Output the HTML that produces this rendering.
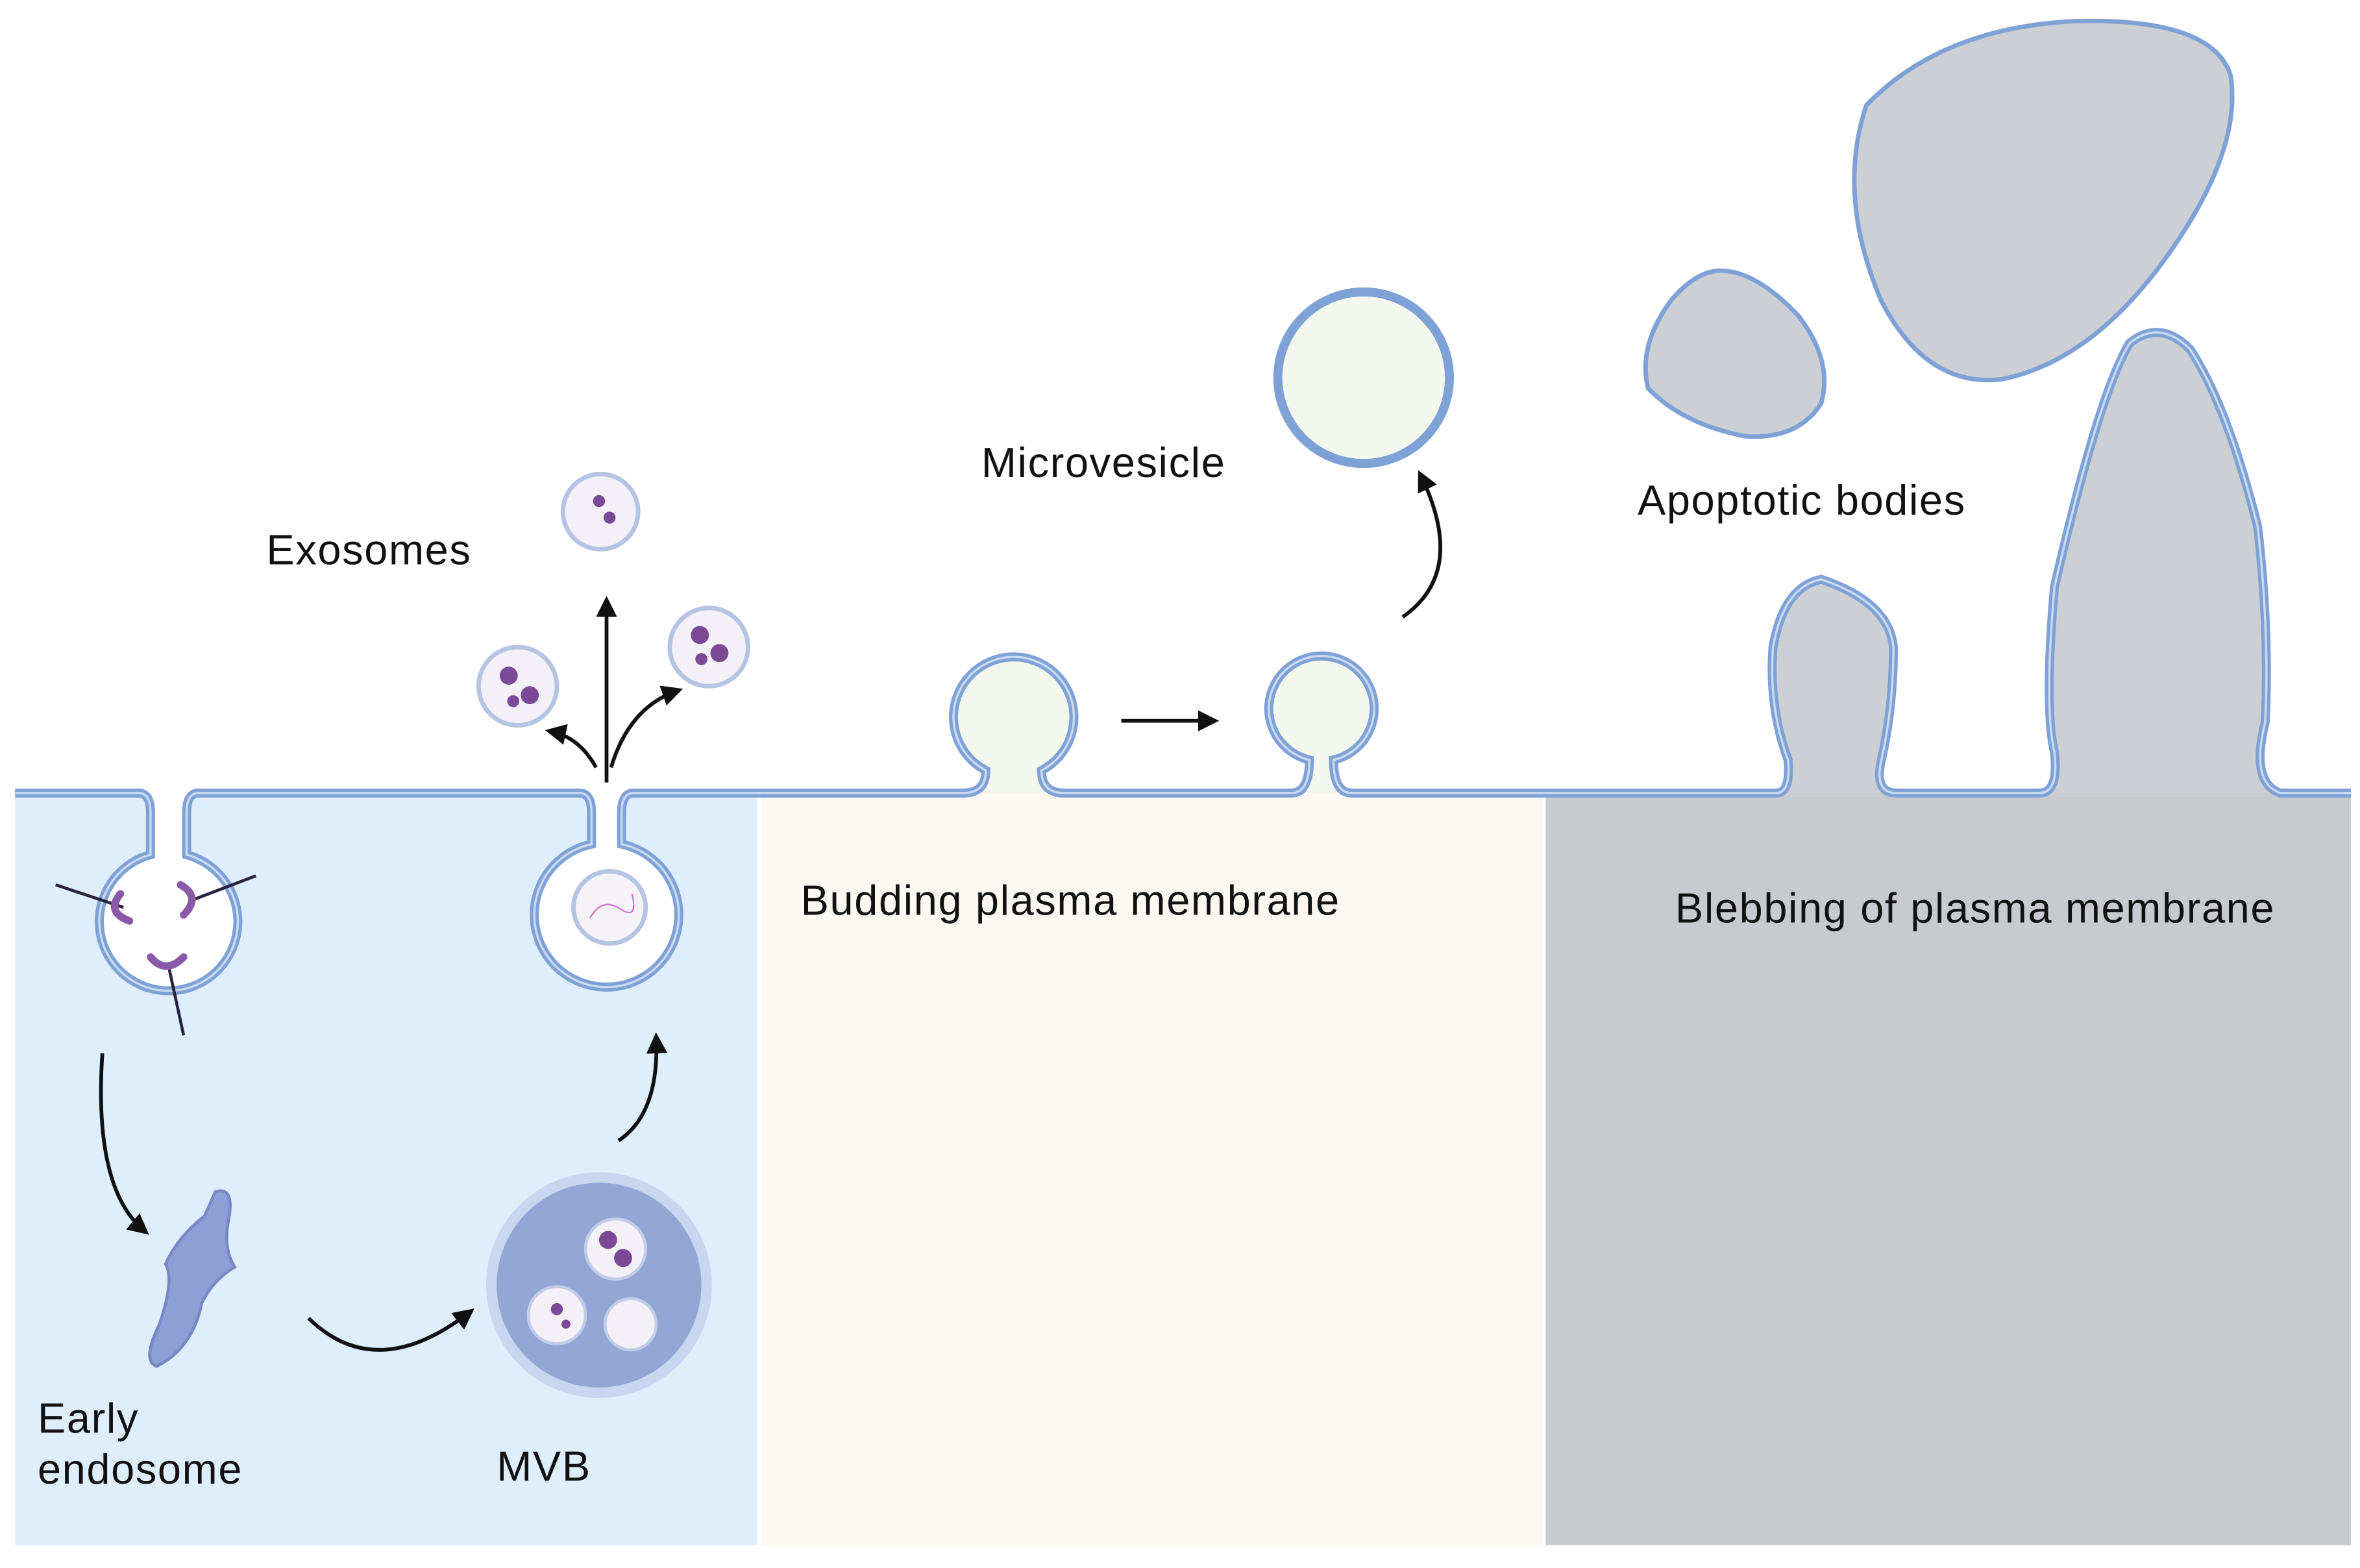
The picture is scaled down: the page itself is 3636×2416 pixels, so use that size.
<!DOCTYPE html>
<html><head><meta charset="utf-8"><style>
html,body{margin:0;padding:0;background:#fff;}
svg{display:block;}
text{font-family:"Liberation Sans",sans-serif;font-size:28px;letter-spacing:0.7px;fill:#111;}
</style></head><body>
<svg width="3636" height="2416" viewBox="0 0 1568 1042" preserveAspectRatio="none" xmlns="http://www.w3.org/2000/svg">
<defs>
<marker id="ah2" markerWidth="14" markerHeight="14" refX="10" refY="7" orient="auto" markerUnits="userSpaceOnUse" viewBox="0 0 14 14">
<path d="M0,0 L14,7 L0,14 Z" fill="#111"/></marker>
<clipPath id="cell"><path d="M10,527 H92 Q100,527 100,540 V568 A46,46 0 1 0 124,568 V540 Q124,527 132,527 H385 Q393,527 393,540 V561 A48,48 0 1 0 413,561 V540 Q413,527 421,527 H640 Q655,527 655,512 A40,40 0 1 1 692,512 Q692,527 707,527 H858 Q870,527 870,505 A35,35 0 1 1 886,505 Q886,527 898,527 H1180 Q1190,527 1188,505 Q1175,470 1178,430 Q1185,390 1210,385 Q1255,400 1258,430 Q1258,470 1250,505 Q1245,527 1260,527 H1355 Q1368,527 1365,500 Q1358,470 1365,390 Q1395,260 1415,228 Q1435,212 1455,232 Q1480,270 1500,350 Q1508,420 1505,480 Q1495,520 1515,527 H1562 V1027 H10 Z"/></clipPath>
</defs>
<rect width="1568" height="1042" fill="#fff"/>
<g clip-path="url(#cell)">
<rect x="10" y="0" width="493" height="1027" fill="#deeefc"/>
<rect x="506" y="0" width="519" height="1027" fill="#faf8f0"/>
<rect x="506" y="380" width="519" height="147" fill="#f3f7ee"/>
<rect x="1027" y="0" width="535" height="1027" fill="#c8cacd"/>
<rect x="1150" y="200" width="400" height="327" fill="#ccd0d4"/>
</g>
<path d="M10,527 H92 Q100,527 100,540 V568 A46,46 0 1 0 124,568 V540 Q124,527 132,527 H385 Q393,527 393,540 V561 A48,48 0 1 0 413,561 V540 Q413,527 421,527 H640 Q655,527 655,512 A40,40 0 1 1 692,512 Q692,527 707,527 H858 Q870,527 870,505 A35,35 0 1 1 886,505 Q886,527 898,527 H1180 Q1190,527 1188,505 Q1175,470 1178,430 Q1185,390 1210,385 Q1255,400 1258,430 Q1258,470 1250,505 Q1245,527 1260,527 H1355 Q1368,527 1365,500 Q1358,470 1365,390 Q1395,260 1415,228 Q1435,212 1455,232 Q1480,270 1500,350 Q1508,420 1505,480 Q1495,520 1515,527 H1562" fill="none" stroke="#7fa2d6" stroke-width="6"/>
<path d="M10,527 H92 Q100,527 100,540 V568 A46,46 0 1 0 124,568 V540 Q124,527 132,527 H385 Q393,527 393,540 V561 A48,48 0 1 0 413,561 V540 Q413,527 421,527 H640 Q655,527 655,512 A40,40 0 1 1 692,512 Q692,527 707,527 H858 Q870,527 870,505 A35,35 0 1 1 886,505 Q886,527 898,527 H1180 Q1190,527 1188,505 Q1175,470 1178,430 Q1185,390 1210,385 Q1255,400 1258,430 Q1258,470 1250,505 Q1245,527 1260,527 H1355 Q1368,527 1365,500 Q1358,470 1365,390 Q1395,260 1415,228 Q1435,212 1455,232 Q1480,270 1500,350 Q1508,420 1505,480 Q1495,520 1515,527 H1562" fill="none" stroke="#c9d9f0" stroke-width="1.5"/>
<rect x="503" y="531" width="3" height="496" fill="#fff"/>
<rect x="1025" y="531" width="2" height="496" fill="#fff"/>
<g stroke="#2a2340" stroke-width="2"><line x1="37" y1="588" x2="82" y2="603"/><line x1="170" y1="582" x2="128" y2="598"/><line x1="112" y1="642" x2="122" y2="688"/></g>
<g stroke="#8a5aa8" stroke-width="5" fill="none" stroke-linecap="round"><path d="M80,594 Q70,606 86,612"/><path d="M120,588 Q134,596 122,608"/><path d="M100,636 Q110,648 122,636"/></g>
<circle cx="405" cy="603" r="24" fill="#f5f2f8" stroke="#b6c4e4" stroke-width="3"/>
<path d="M392,610 q8,-14 20,-6 t8,-10" stroke="#d07ad0" fill="none" stroke-width="1"/>
<g fill="#f4f0f8" stroke="#b6c4e4" stroke-width="3"><circle cx="399" cy="340" r="25"/><circle cx="344" cy="456" r="26"/><circle cx="471" cy="430" r="26"/></g>
<g fill="#7a4a96"><circle cx="338" cy="449" r="6"/><circle cx="352" cy="462" r="6"/><circle cx="341" cy="466" r="4"/><circle cx="465" cy="422" r="6"/><circle cx="478" cy="434" r="6"/><circle cx="466" cy="438" r="4"/><circle cx="398" cy="333" r="4"/><circle cx="405" cy="344" r="4"/></g>
<g stroke="#111" stroke-width="2.5" fill="none">
<path d="M403,520 V400" marker-end="url(#ah2)"/>
<path d="M396,510 Q385,490 366,486" marker-end="url(#ah2)"/>
<path d="M406,510 Q418,470 450,459" marker-end="url(#ah2)"/>
<path d="M68,700 Q62,790 96,818" marker-end="url(#ah2)"/>
<path d="M205,876 Q250,920 312,872" marker-end="url(#ah2)"/>
<path d="M411,758 Q438,740 436,690" marker-end="url(#ah2)"/>
<path d="M745,479 H806" marker-end="url(#ah2)"/>
<path d="M932,410 Q975,380 944,316" marker-end="url(#ah2)"/>
</g>
<path d="M143,792 Q156,788 152,810 Q148,830 156,842 Q142,850 134,866 Q128,896 104,908 Q94,904 106,880 Q116,850 110,840 Q118,822 136,808 Z" fill="#8d9fd4" stroke="#7888c6" stroke-width="2"/>
<circle cx="398" cy="854" r="75" fill="#c7d7f0"/>
<circle cx="398" cy="854" r="68" fill="#93a6d4"/>
<g fill="#f4f0f8" stroke="#c0cce8" stroke-width="2"><circle cx="409" cy="830" r="20"/><circle cx="370" cy="874" r="19"/><circle cx="419" cy="880" r="17"/></g>
<g fill="#7a4a96"><circle cx="404" cy="824" r="6"/><circle cx="414" cy="836" r="6"/><circle cx="370" cy="870" r="4"/><circle cx="376" cy="880" r="3"/></g>
<circle cx="906" cy="251" r="57" fill="#f3f7ee" stroke="#7fa2d6" stroke-width="6"/>
<path d="M1140,180 Q1165,178 1195,210 Q1218,240 1210,268 Q1195,292 1160,290 Q1118,282 1095,258 Q1088,230 1110,200 Q1125,182 1140,180 Z" fill="#ccd0d4" stroke="#7fa2d6" stroke-width="3"/>
<path d="M1240,70 Q1290,18 1380,14 Q1470,12 1482,50 Q1490,100 1440,170 Q1390,240 1330,252 Q1280,258 1250,200 Q1220,130 1240,70 Z" fill="#ccd0d4" stroke="#7fa2d6" stroke-width="3"/>
<text x="177" y="375">Exosomes</text>
<text x="652" y="317">Microvesicle</text>
<text x="1088" y="342">Apoptotic bodies</text>
<text x="532" y="608">Budding plasma membrane</text>
<text x="1113" y="613">Blebbing of plasma membrane</text>
<text x="25" y="952">Early</text>
<text x="25" y="986">endosome</text>
<text x="330" y="984">MVB</text>
</svg>
</body></html>
